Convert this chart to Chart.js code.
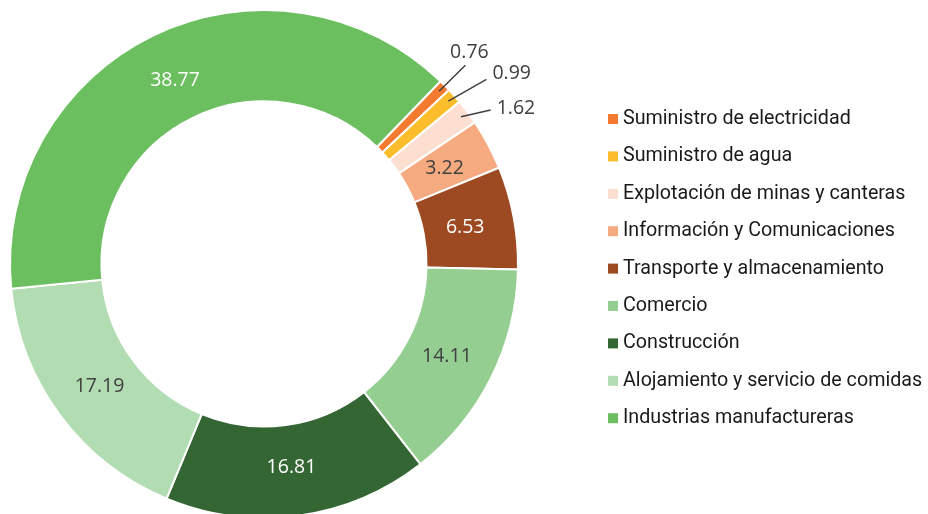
<!DOCTYPE html>
<html>
<head>
<meta charset="utf-8">
<script src="https://cdn.jsdelivr.net/npm/chart.js@4/dist/chart.umd.min.js"></script>
<style>
  body { margin: 0; background: #fff; overflow: hidden; }
  #wrap { width: 928px; height: 528px; }
</style>
</head>
<body>
<div id="wrap"><canvas id="myChart" width="928" height="528"></canvas></div>
<script>
const categories = [
    "Suministro de electricidad",
    "Suministro de agua",
    "Explotación de minas y canteras",
    "Información y Comunicaciones",
    "Transporte y almacenamiento",
    "Comercio",
    "Construcción",
    "Alojamiento y servicio de comidas",
    "Industrias manufactureras",
];
const shares = [0.76, 0.99, 1.62, 3.22, 6.53, 14.11, 16.81, 17.19, 38.77];
const valueLabels = ["0.76", "0.99", "1.62", "3.22", "6.53", "14.11", "16.81", "17.19", "38.77"];

const sliceColors = [
    "#f47a30", "#fbbd2b", "#fcdfd1", "#f6aa80", "#9d4a22",
    "#95ce91", "#346634", "#b2dcb1", "#6bbf5f",
];
const labelColors = [
    "#404040", "#404040", "#404040", "#404040", "#ffffff",
    "#404040", "#ffffff", "#404040", "#ffffff",
];

// small slices get a leader line: [angle shift deg, end radius, text dx, text dy, align]
const callouts = {
    0: [0, 283, 4, -13, "center"],
    1: [1.8, 289, 6, -6, "left"],
    2: [2.6, 274, 6, -2, "left"],
};

const labelPlugin = {
    id: "sliceLabels",
    afterDatasetsDraw(chart) {
        const ctx = chart.ctx;
        const meta = chart.getDatasetMeta(0);
        ctx.save();
        ctx.font = "19.5px 'Open Sans'";
        ctx.textBaseline = "middle";
        meta.data.forEach((arc, i) => {
            const p = arc.getProps(["x", "y", "startAngle", "endAngle", "innerRadius", "outerRadius"], true);
            const mid = (p.startAngle + p.endAngle) / 2;
            if (callouts[i]) {
                const c = callouts[i];
                const a2 = mid + c[0] * Math.PI / 180;
                const x1 = p.x + Math.cos(mid) * (p.outerRadius - 8);
                const y1 = p.y + Math.sin(mid) * (p.outerRadius - 8);
                const x2 = p.x + Math.cos(a2) * c[1];
                const y2 = p.y + Math.sin(a2) * c[1];
                ctx.strokeStyle = "#404040";
                ctx.lineWidth = 1.5;
                ctx.beginPath();
                ctx.moveTo(x1, y1);
                ctx.lineTo(x2, y2);
                ctx.stroke();
                ctx.fillStyle = "#404040";
                ctx.textAlign = c[4];
                ctx.fillText(valueLabels[i], x2 + c[2], y2 + c[3]);
            } else {
                const r = p.innerRadius + (p.outerRadius - p.innerRadius) * 0.46;
                ctx.fillStyle = labelColors[i];
                ctx.textAlign = "center";
                ctx.fillText(valueLabels[i], p.x + Math.cos(mid) * r, p.y + Math.sin(mid) * r + 1);
            }
        });
        ctx.restore();
    },
};

const legendPlugin = {
    id: "sideLegend",
    afterDraw(chart) {
        const ctx = chart.ctx;
        const ds = chart.data.datasets[0];
        ctx.save();
        ctx.font = "19.7px Roboto";
        ctx.textBaseline = "middle";
        ctx.textAlign = "left";
        chart.data.labels.forEach((label, i) => {
            const y = 118 + i * 37.4;
            ctx.fillStyle = ds.backgroundColor[i];
            ctx.fillRect(608, y - 4, 10, 10);
            ctx.fillStyle = "#1a1a1a";
            ctx.fillText(label, 623, y + 1);
        });
        ctx.restore();
    },
};

const ctx = document.getElementById("myChart").getContext("2d");
const myChart = new Chart(ctx, {
    type: "doughnut",
    data: {
        labels: categories,
        datasets: [
            {
                data: shares,
                backgroundColor: sliceColors,
                borderColor: "#ffffff",
                borderWidth: 2,
            },
        ],
    },
    options: {
        responsive: false,
        animation: false,
        devicePixelRatio: 1,
        rotation: 44,
        cutout: "64%",
        layout: { padding: { left: 9, right: 409, top: 9, bottom: 9 } },
        plugins: {
            legend: { display: false },
            tooltip: { enabled: false },
        },
    },
    plugins: [labelPlugin, legendPlugin],
});
</script>
</body>
</html>
